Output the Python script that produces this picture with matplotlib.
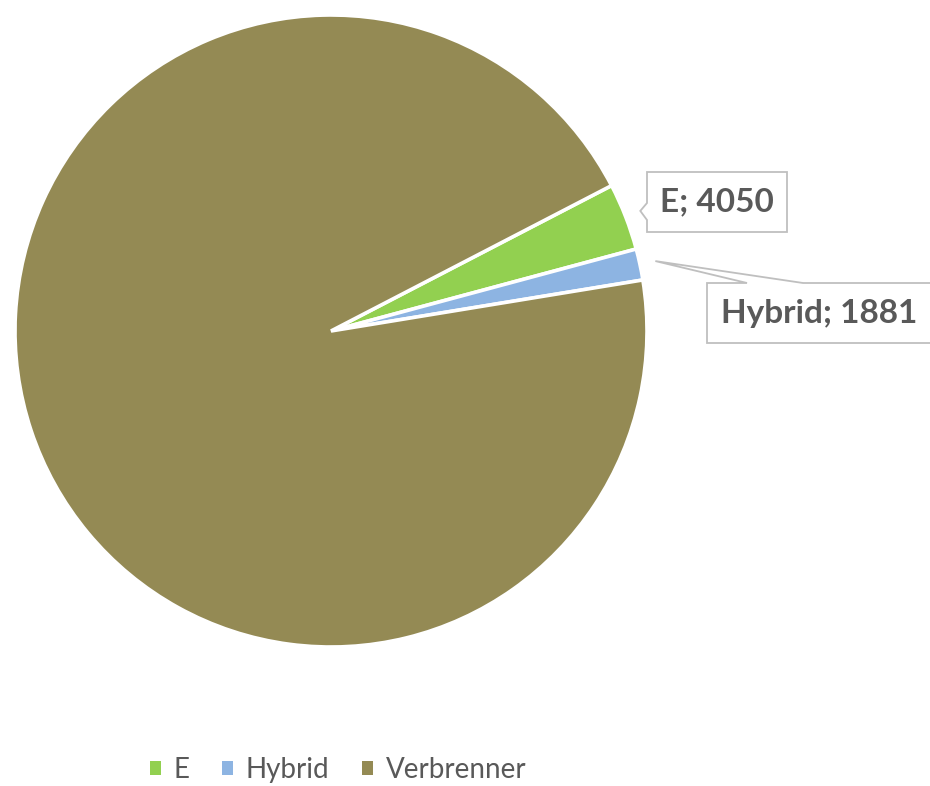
import numpy as np
import matplotlib
matplotlib.use("Agg")
import matplotlib.pyplot as plt
from matplotlib.patches import Patch, Polygon

categories = ["E", "Hybrid", "Verbrenner"]
values = [4050, 1881, 112000]
colors = ["#92D050", "#8DB4E2", "#948A54"]
label_texts = ["E; 4050", "Hybrid; 1881"]

W, H = 930, 786
fig = plt.figure(figsize=(W / 100, H / 100), dpi=100)
ax = fig.add_axes([0, 0, 1, 1])


# pixel helper (y measured from top)
def py(y):
    return H - y


cx, cy, r = 331, py(331), 316
explode = [0.05, 0.05, 0.0]
start = 27.4

wedges, _ = ax.pie(
    values,
    colors=colors,
    center=(cx, cy),
    radius=r,
    startangle=start,
    counterclock=False,
    explode=explode,
    wedgeprops=dict(edgecolor="white", linewidth=2.6),
    frame=True,
)
ax.set_xlim(0, W)
ax.set_ylim(0, H)
ax.set_aspect("equal")
ax.axis("off")

# mid angles of the small slices
total = sum(values)
angles = []
a = start
for v in values:
    span = v / total * 360
    angles.append(a - span / 2)
    a -= span


def tip(i, extra=0):
    t = np.deg2rad(angles[i])
    d = r * (1 + explode[i]) + extra
    return cx + d * np.cos(t), cy + d * np.sin(t)


box_ec = "#BFBFBF"
txt_c = "#595959"
font = "Lato"

# E callout: box with notch on left side
tx, ty = tip(0)
x0, x1, y0, y1 = 647, 787, py(232), py(172)
e_poly = [(x0, y0), (x0, py(220)), (tx, ty), (x0, py(203)), (x0, y1), (x1, y1), (x1, y0)]
ax.add_patch(Polygon(e_poly, closed=True, fc="white", ec=box_ec, lw=1.3, zorder=5))
ax.text((x0 + x1) / 2, (y0 + y1) / 2, label_texts[0], ha="center", va="center",
        fontsize=24, fontweight="bold", color=txt_c, family=font, zorder=6)

# Hybrid callout: box with wedge from top edge
tx, ty = tip(1)
x0, x1, y0, y1 = 707, 945, py(343), py(283)
h_poly = [(x0, y0), (x0, y1), (747, y1), (tx, ty), (803, y1), (x1, y1), (x1, y0)]
ax.add_patch(Polygon(h_poly, closed=True, fc="white", ec=box_ec, lw=1.3, zorder=5))
ax.text(x0 + 14, (y0 + y1) / 2, label_texts[1], ha="left", va="center",
        fontsize=24, fontweight="bold", color=txt_c, family=font, zorder=6)

handles = [Patch(facecolor=c, edgecolor="none", label=n) for c, n in zip(colors, categories)]
leg = fig.legend(
    handles=handles,
    loc="center",
    bbox_to_anchor=(338 / W, 1 - 770 / H),
    ncol=3,
    frameon=False,
    handlelength=0.4,
    handleheight=0.4,
    handletextpad=0.47,
    columnspacing=1.15,
    prop=dict(family=font, size=20),
)
for t in leg.get_texts():
    t.set_color(txt_c)

fig.savefig("out.png", dpi=100)
